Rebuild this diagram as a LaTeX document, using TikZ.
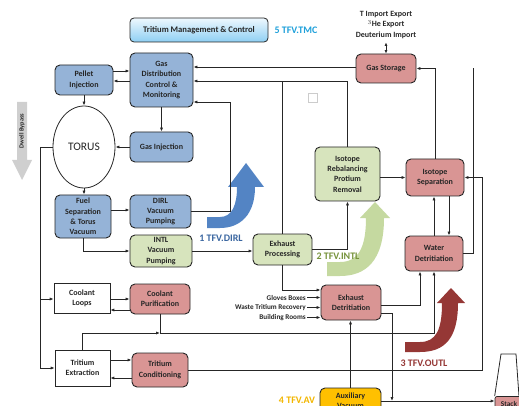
\documentclass[tikz,border=0pt]{standalone}
\usepackage{fontspec}
\setmainfont{Carlito}
\usetikzlibrary{arrows.meta,shapes.geometric}
\definecolor{lncol}{HTML}{262626}
\definecolor{fblue}{HTML}{95B3D7}
\definecolor{fgreen}{HTML}{D7E4BD}
\definecolor{fred}{HTML}{D99594}
\definecolor{forange}{HTML}{FFC000}
\definecolor{tmctop}{HTML}{EEF8FE}
\definecolor{tmcbot}{HTML}{8ECFF3}
\definecolor{tmctxt}{HTML}{1FA0DA}
\definecolor{dirlcol}{HTML}{5384C4}
\definecolor{dirltxt}{HTML}{3A66A0}
\definecolor{intlcol}{HTML}{C5D9A0}
\definecolor{intltxt}{HTML}{77933C}
\definecolor{outlcol}{HTML}{953735}
\definecolor{avtxt}{HTML}{F2B600}
\newcommand{\boxfont}{\fontsize{8}{10.3}\selectfont\bfseries}
\newcommand{\tagfont}{\fontsize{10}{11}\selectfont\bfseries}
\tikzset{
  box/.style={draw=lncol, line width=0.9pt, rounded corners=5pt, align=center,
    font=\boxfont, text=lncol, inner sep=1pt},
  bluebox/.style={box, fill=fblue},
  greenbox/.style={box, fill=fgreen},
  redbox/.style={box, fill=fred},
  plainbox/.style={box, sharp corners, fill=white, line width=0.7pt},
  flow/.style={-{Latex[length=4pt,width=3.2pt]}, line width=0.8pt, draw=lncol},
  link/.style={line width=0.8pt, draw=lncol},
  srclabel/.style={font=\fontsize{7.2}{8}\selectfont\bfseries, text=lncol, anchor=east, inner sep=1pt},
  tag/.style={font=\tagfont},
}

\begin{document}
\begin{tikzpicture}[x=1pt, y=-1pt]
  \useasboundingbox (0,0) rectangle (519,406);
  \clip (0,0) rectangle (519,406);

  % Kopf
  \node[box, rounded corners=4pt, top color=tmctop, bottom color=tmcbot, line width=0.8pt,
    minimum width=138pt, minimum height=24pt, font=\fontsize{8.6}{10}\selectfont\bfseries] (tmc) at (199,30) {Tritium Management \& Control};
  \node[tag, text=tmctxt, anchor=west] (tmctag) at (271,30) {5 TFV.TMC};

  % Dwell Bypass
  \fill[gray!38] (17,102) -- (27,102) -- (27,160) -- (32,160) -- (22,180) -- (12,160) -- (17,160) -- cycle;
  \node[rotate=90, font=\fontsize{6.3}{7}\selectfont\bfseries, text=lncol] (dwell) at (22,131) {Dwell Bypass};

  % Inner loop (blau)
  \node[bluebox, minimum width=58pt, minimum height=30pt] (pellet) at (84,80) {Pellet\\Injection};
  \node[bluebox, minimum width=63pt, minimum height=54pt] (gasdist) at (161.5,80) {Gas\\Distribution\\Control \&\\Monitoring};
  \node[ellipse, draw=lncol, line width=0.8pt, fill=white, minimum width=62pt, minimum height=82pt,
    font=\fontsize{11.5}{12}\selectfont, text=lncol] (torus) at (84,147) {TORUS};
  \node[bluebox, minimum width=63pt, minimum height=30pt] (gasinj) at (161.5,147) {Gas Injection};
  \node[bluebox, minimum width=56pt, minimum height=43pt] (fuelsep) at (83,216.5) {Fuel\\Separation\\\& Torus\\Vacuum};
  \node[bluebox, minimum width=61pt, minimum height=33pt] (dirl) at (160.5,211.5) {DIRL\\Vacuum\\Pumping};

  % Inner tritium plant loop (gruen)
  \node[greenbox, minimum width=62pt, minimum height=32pt] (intl) at (161,251) {INTL\\Vacuum\\Pumping};
  \node[greenbox, minimum width=59pt, minimum height=31pt] (exproc) at (282.5,249.5) {Exhaust\\Processing};
  \node[greenbox, minimum width=65pt, minimum height=54pt] (isoreb) at (347.5,174) {Isotope\\Rebalancing\\Protium\\Removal};

  % Outer loop (rot)
  \node[redbox, minimum width=60pt, minimum height=29pt] (gasstor) at (386,68.5) {Gas Storage};
  \node[redbox, minimum width=58pt, minimum height=37pt] (isosep) at (435,177.5) {Isotope\\Separation};
  \node[redbox, minimum width=58pt, minimum height=35pt] (waterdet) at (434,253.5) {Water\\Detritiation};
  \node[redbox, minimum width=60pt, minimum height=35pt] (exdet) at (351,302.5) {Exhaust\\Detritiation};
  \node[plainbox, minimum width=56pt, minimum height=30pt] (coolloop) at (82,298) {Coolant\\Loops};
  \node[redbox, minimum width=60pt, minimum height=30pt] (coolpur) at (160,299) {Coolant\\Purification};
  \node[plainbox, minimum width=55pt, minimum height=36pt] (trext) at (82.5,368) {Tritium\\Extraction};
  \node[redbox, minimum width=56pt, minimum height=34pt] (trcond) at (160,370) {Tritium\\Conditioning};

  % Auxiliary + Stack
  \node[box, fill=forange, minimum width=61pt, minimum height=26pt] (aux) at (350.5,401) {Auxiliary\\Vacuum};
  \node[box, fill=fred, rounded corners=2pt, line width=0.7pt, minimum width=28pt, minimum height=14pt, inner sep=0pt,
    font=\fontsize{7.3}{8}\selectfont\bfseries] (stack) at (509,403.5) {Stack};
  \draw[lncol, line width=0.8pt] (stack.north west) -- (501,354) -- (516,354) -- (519,396.5);

  \node[font=\fontsize{8}{10.7}\selectfont\bfseries, text=lncol, align=center] (ext) at (386,25) {T Import Export\\$^{3}$He Export\\Deuterium Import};
  \node[srclabel] (gloves) at (307,297.5) {Gloves Boxes};
  \node[srclabel] (waste) at (307,307.5) {Waste Tritium Recovery};
  \node[srclabel] (bldg) at (307,317.5) {Building Rooms};

  % TFV Pfeile
  \fill[dirlcol] (207,217) -- (220,217) .. controls (232,217) and (237,205) .. (237,187) -- (228,187)
    -- (246,163) -- (264,187) -- (255,187) .. controls (255,215) and (240,228) .. (220,228) -- (207,228) -- cycle;
  \fill[intlcol] (327,262) -- (340,262) .. controls (358,262) and (366,248) .. (366,218) -- (360,218)
    -- (375,202) -- (390,218) -- (384,218) .. controls (384,262) and (365,276) .. (340,276) -- (327,276) -- cycle;
  \fill[outlcol] (405,342) -- (420,342) .. controls (436,342) and (442,330) .. (442,303) -- (437,303)
    -- (451,288) -- (465,303) -- (458,303) .. controls (458,338) and (445,352) .. (420,352) -- (405,352) -- cycle;
  \node[tag, text=dirltxt] (dirltag) at (221,238) {1 TFV.DIRL};
  \node[tag, text=intltxt] (intltag) at (338,256) {2 TFV.INTL};
  \node[tag, text=outlcol] (outltag) at (424,363) {3 TFV.OUTL};
  \node[tag, text=avtxt] (avtag) at (297,400) {4 TFV.AV};

  \draw[gray!40, line width=0.5pt] (308,93) rectangle (317,102);

  % Verbindungen innen
  \draw[flow] (pellet.east |- 0,71) -- (gasdist.west |- 0,71);
  \draw[flow] (gasdist.west |- 0,81) -- (pellet.east |- 0,81);
  \draw[flow] (pellet.south) -- (torus.north);
  \draw[flow] (gasdist.south) -- (gasinj.north);
  \draw[flow] (gasinj.west) -- (gasinj.west -| torus.east);
  \draw[flow] (torus.south) -- (torus.south |- fuelsep.north);
  \draw[flow] (fuelsep.east |- 0,210) -- (dirl.west |- 0,210);
  \draw[flow] (fuelsep.south) |- (intl.west);
  \draw[flow] (dirl.east) -| (230,102) -- (gasdist.east |- 0,102);
  \draw[flow] (gasstor.west |- 0,67) -- (gasdist.east |- 0,67);
  \draw[link] (exproc.north) -- (exproc.north |- 0,81);
  \draw[flow] (isoreb.north) |- (gasdist.east |- 0,81);
  \draw[flow] (intl.east) -- (intl.east -| exproc.west);
  \draw[flow] (exproc.east) -| (isoreb.south);
  \draw[flow] (exproc.south) |- (exdet.west |- 0,290);
  \draw[flow] (gloves.east) -- (gloves.east -| exdet.west);
  \draw[flow] (waste.east) -- (waste.east -| exdet.west);
  \draw[flow] (bldg.east) -- (bldg.east -| exdet.west);

  % Verbindungen aussen
  \draw[{Latex[length=3.5pt,width=3pt]}-{Latex[length=3.5pt,width=3pt]}, line width=0.8pt, draw=lncol] (ext.south) -- (gasstor.north);
  \draw[flow] (isosep.west -| isoreb.east) -- (isosep.west);
  \draw[flow] (isosep.north) |- (gasstor.east);
  \draw[link] (waterdet.east) -| (gasstor.east -| 473,0);
  \draw[flow] (isosep.south -| 449,0) -- (waterdet.north -| 449,0);
  \draw[flow] (waterdet.north -| 434,0) -- (isosep.south -| 434,0);
  \draw[flow] (exdet.east |- 0,305) -| (waterdet.south -| 420,0);
  \draw[flow] (coolpur.south) |- (434,333) -- (waterdet.south -| 434,0);
  \draw[flow] (trext.north) |- (coolpur.south |- 0,333);
  \draw[flow] (trcond.east) -| (482,177.5) -- (isosep.east);
  \draw[flow] (aux.north) -- (aux.north |- exdet.south);
  \draw[flow] (exdet.east |- 0,313) -| (aux.east -| 392,0);
  \draw[flow] (aux.east) -- (stack.west |- aux.east);

  % Dwell-Zweig links
  \draw[flow] (torus.west) -| (40,299) -- (coolloop.west |- 0,299);
  \draw[flow] (40,299) |- (trext.west);
  \draw[flow] (coolloop.east |- 0,299) -- (coolpur.west |- 0,299);
  \draw[flow] (coolpur.west |- 0,310) -- (coolloop.east |- 0,310);
  \draw[flow] (trext.east |- 0,360) -- (trcond.west |- 0,360);
  \draw[flow] (trcond.west |- 0,378) -- (trext.east |- 0,378);
\end{tikzpicture}
\end{document}
